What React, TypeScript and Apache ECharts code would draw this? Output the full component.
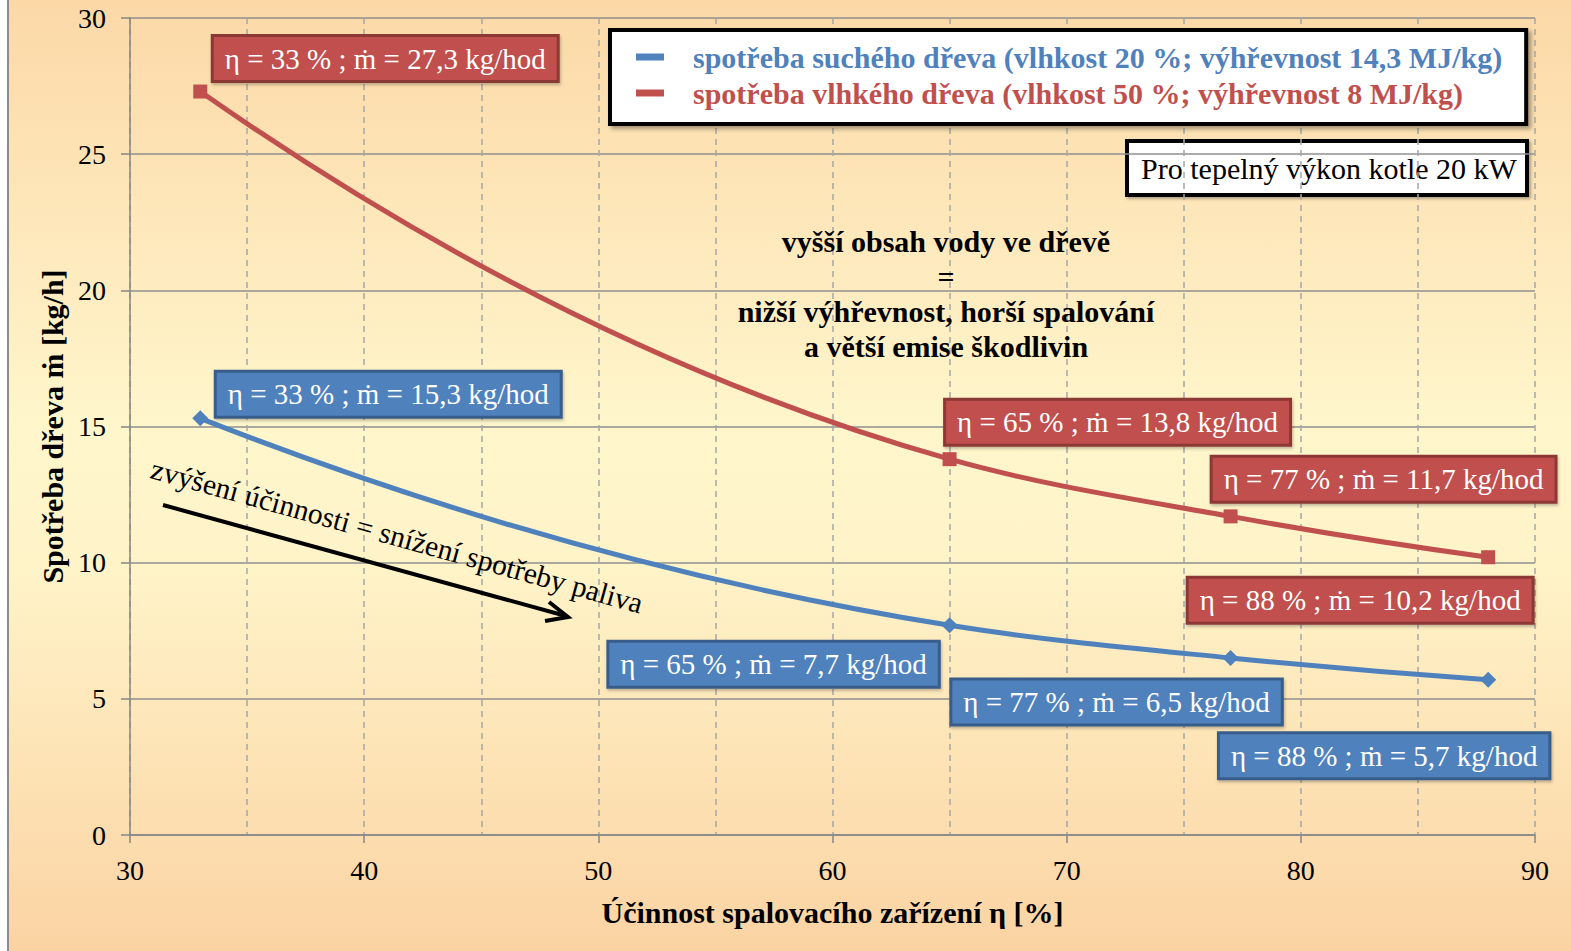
import React, { useEffect, useRef } from "react";
import * as echarts from "echarts";

const efficiency = [33, 65, 77, 88];
const dryWood = [15.3, 7.7, 6.5, 5.7];
const wetWood = [27.3, 13.8, 11.7, 10.2];
const dryName = "spotřeba suchého dřeva (vlhkost 20 %; výhřevnost 14,3 MJ/kg)";
const wetName = "spotřeba vlhkého dřeva (vlhkost 50 %; výhřevnost 8 MJ/kg)";
const dryOffsets = [[188, -24], [-176, 39], [-114, 44], [-104, 76]];
const wetOffsets = [[185, -33], [168, -37], [153, -37], [-128, 43]];

const SERIF = "'Liberation Serif', 'Times New Roman', serif";
const BLUE = "#4F81BD";
const BLUE_DARK = "#385D8A";
const RED = "#C0504D";
const RED_DARK = "#8C3836";

// slope of the parabola through three neighbouring points (used only to shape the smooth curve)
function slope(xs: number[], ys: number[], i: number) {
  const n = xs.length;
  const k = Math.min(Math.max(i - 1, 0), n - 3);
  const a = k, b = k + 1, c = k + 2;
  const fab = (ys[b] - ys[a]) / (xs[b] - xs[a]);
  const fbc = (ys[c] - ys[b]) / (xs[c] - xs[b]);
  const fabc = (fbc - fab) / (xs[c] - xs[a]);
  return fab + fabc * (xs[i] - xs[a] + (xs[i] - xs[b]));
}

function curveSeries(name: string, ys: number[], color: string) {
  const xs = efficiency;
  return {
    name,
    type: "custom",
    z: 2,
    itemStyle: { color },
    data: xs.map((x, i) => [x, ys[i]]),
    encode: { x: 0, y: 1 },
    renderItem: (params: any, api: any) => {
      const i = params.dataIndex;
      if (i >= xs.length - 1) return null;
      const h = xs[i + 1] - xs[i];
      const m0 = slope(xs, ys, i);
      const m1 = slope(xs, ys, i + 1);
      const p0 = api.coord([xs[i], ys[i]]);
      const c0 = api.coord([xs[i] + h / 3, ys[i] + (m0 * h) / 3]);
      const c1 = api.coord([xs[i + 1] - h / 3, ys[i + 1] - (m1 * h) / 3]);
      const p1 = api.coord([xs[i + 1], ys[i + 1]]);
      const d = `M${p0[0]},${p0[1]} C${c0[0]},${c0[1]} ${c1[0]},${c1[1]} ${p1[0]},${p1[1]}`;
      return {
        type: "path",
        shape: { pathData: d },
        style: { stroke: color, lineWidth: 5, fill: "none", lineCap: "round" },
      };
    },
  };
}

function pointSeries(name: string, ys: number[], offs: number[][], symbol: string, size: number, bg: string, border: string) {
  return {
    name,
    type: "scatter",
    z: 3,
    symbol,
    symbolSize: size,
    itemStyle: { color: bg, opacity: 1 },
    data: ys.map((v, i) => ({
      value: [efficiency[i], v],
      label: {
        show: true,
        position: "inside",
        formatter: `η = ${efficiency[i]} % ; ṁ = ${String(v).replace(".", ",")} kg/hod`,
        color: "#fff",
        fontFamily: SERIF,
        fontSize: 29,
        backgroundColor: bg,
        borderColor: border,
        borderWidth: 3,
        padding: [8, 11, 6, 11],
        shadowColor: "rgba(0,0,0,0.25)",
        shadowBlur: 3,
        shadowOffsetX: 1,
        shadowOffsetY: 2,
      },
    })),
    labelLayout: (p: any) => ({
      dx: offs[p.dataIndex][0],
      dy: offs[p.dataIndex][1],
      hideOverlap: false,
    }),
  };
}

export default function App() {
  const ref = useRef<HTMLDivElement>(null);
  useEffect(() => {
    document.body.style.margin = "0";
    const chart = echarts.init(ref.current!, null, { renderer: "svg" });
    const ang = (15.5 * Math.PI) / 180;
    chart.setOption({
      animation: false,
      backgroundColor: new echarts.graphic.LinearGradient(0, 0, 0, 1, [
        { offset: 0, color: "#FCD8A7" },
        { offset: 0.45, color: "#FFF6CC" },
        { offset: 0.6, color: "#FFF3C8" },
        { offset: 1, color: "#FBD3A3" },
      ]),
      grid: { left: 130, top: 18, right: 36, bottom: 116 },
      legend: {
        orient: "vertical",
        left: 610,
        top: 30,
        icon: "rect",
        itemWidth: 28,
        itemHeight: 7,
        itemGap: 2,
        padding: [10, 24, 14, 26],
        backgroundColor: "#fff",
        borderColor: "#000",
        borderWidth: 4,
        shadowColor: "rgba(0,0,0,0.35)",
        shadowBlur: 4,
        shadowOffsetX: 3,
        shadowOffsetY: 3,
        data: [
          { name: dryName, textStyle: { color: BLUE } },
          { name: wetName, textStyle: { color: RED } },
        ],
        textStyle: {
          fontFamily: SERIF,
          fontWeight: "bold",
          fontSize: 30,
          lineHeight: 34,
          padding: [0, 0, 0, 24],
        },
      },
      xAxis: {
        type: "value",
        min: 30,
        max: 90,
        interval: 10,
        name: "Účinnost spalovacího zařízení η [%]",
        nameLocation: "middle",
        nameGap: 62,
        nameTextStyle: { fontFamily: SERIF, fontWeight: "bold", fontSize: 30, color: "#000" },
        axisLine: { show: true, onZero: false, lineStyle: { color: "#868686", width: 1.5 } },
        axisTick: { show: true, length: 8, lineStyle: { color: "#868686", width: 1.5 } },
        axisLabel: { fontFamily: SERIF, fontSize: 28, color: "#000", margin: 21 },
        splitLine: { show: true, lineStyle: { color: "#A6A6A6", width: 1.5, type: [6, 5] } },
        minorTick: { show: false, splitNumber: 2 },
        minorSplitLine: { show: true, lineStyle: { color: "#A6A6A6", width: 1.5, type: [6, 5] } },
      },
      yAxis: {
        type: "value",
        min: 0,
        max: 30,
        interval: 5,
        name: "Spotřeba dřeva ṁ [kg/h]",
        nameLocation: "middle",
        nameGap: 63,
        nameTextStyle: { fontFamily: SERIF, fontWeight: "bold", fontSize: 30, color: "#000" },
        axisLine: { show: true, lineStyle: { color: "#868686", width: 1.5 } },
        axisTick: { show: true, length: 9, lineStyle: { color: "#868686", width: 1.5 } },
        axisLabel: { fontFamily: SERIF, fontSize: 28, color: "#000", margin: 24 },
        splitLine: { show: true, lineStyle: { color: "#8F8F8F", width: 1.5 } },
      },
      series: [
        curveSeries(dryName, dryWood, BLUE),
        curveSeries(wetName, wetWood, RED),
        pointSeries("dry points", dryWood, dryOffsets, "diamond", 16, BLUE, BLUE_DARK),
        pointSeries("wet points", wetWood, wetOffsets, "rect", 14, RED, RED_DARK),
      ],
      graphic: [
        { type: "rect", shape: { x: 0, y: 0, width: 7, height: 951 }, style: { fill: "#fff" }, silent: true },
        { type: "line", shape: { x1: 8, y1: 0, x2: 8, y2: 951 }, style: { stroke: "#8C8C8C", lineWidth: 2 }, silent: true },
        {
          type: "group",
          z: 100,
          children: [
            {
              type: "rect",
              shape: { x: 1127, y: 141, width: 400, height: 54 },
              style: { fill: "#fff", stroke: "#000", lineWidth: 4, shadowColor: "rgba(0,0,0,0.3)", shadowBlur: 3, shadowOffsetX: 2, shadowOffsetY: 2 },
            },
            {
              type: "text",
              x: 1329,
              y: 168,
              style: { text: "Pro tepelný výkon kotle 20 kW", fill: "#000", font: `30px ${SERIF}`, align: "center", verticalAlign: "middle" },
            },
          ],
        },
        {
          type: "text",
          x: 946,
          y: 294,
          z: 100,
          style: {
            text: "vyšší obsah vody ve dřevě\n=\nnižší výhřevnost, horší spalování\na větší emise škodlivin",
            fill: "#000",
            font: `bold 30px ${SERIF}`,
            lineHeight: 35,
            align: "center",
            verticalAlign: "middle",
          },
        },
        {
          type: "text",
          x: 397,
          y: 536,
          rotation: -ang,
          z: 100,
          style: {
            text: "zvýšení účinnosti = snížení spotřeby paliva",
            fill: "#000",
            font: `29.5px ${SERIF}`,
            align: "center",
            verticalAlign: "middle",
          },
        },
        {
          type: "line",
          z: 100,
          shape: { x1: 163, y1: 505, x2: 566, y2: 616 },
          style: { stroke: "#000", lineWidth: 4 },
        },
        {
          type: "polyline",
          z: 100,
          shape: { points: [[549, 602], [568, 617], [545, 621]] },
          style: { stroke: "#000", lineWidth: 4, fill: null },
        },
      ],
    });
    return () => chart.dispose();
  }, []);
  return <div ref={ref} style={{ position: "absolute", left: 0, top: 0, width: 1571, height: 951 }} />;
}
